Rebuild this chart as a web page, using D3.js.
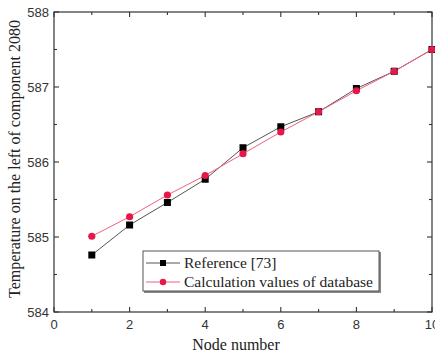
<!DOCTYPE html>
<html><head><meta charset="utf-8">
<script src="https://cdn.jsdelivr.net/npm/d3@7"></script>
<style>body{margin:0;background:#fff}</style>
</head><body>
<svg id="c" width="435" height="354"></svg>
<script>
const nodes = [1,2,3,4,5,6,7,8,9,10];
const referenceValues = [584.76,585.16,585.46,585.77,586.19,586.47,586.67,586.98,587.21,587.50];
const databaseValues = [585.01,585.27,585.56,585.82,586.11,586.40,586.67,586.95,587.21,587.50];
const xTicks = [0,2,4,6,8,10];
const yTicks = [584,585,586,587,588];
const seriesNames = ["Reference [73]","Calculation values of database"];

const svg = d3.select("#c");
const L=54,R=432,T=12,B=312;
const x = d3.scaleLinear().domain([0,10]).range([L,R]);
const y = d3.scaleLinear().domain([584,588]).range([B,T]);

svg.append("rect").attr("x",L).attr("y",T).attr("width",R-L).attr("height",B-T)
  .attr("fill","none").attr("stroke","#333").attr("stroke-width",1.2);

const xMinor = d3.range(1,10,2);
const yMinor = [584.5,585.5,586.5,587.5];
const tg = svg.append("g").attr("stroke","#333").attr("stroke-width",1.1);
xTicks.forEach(v=>{tg.append("line").attr("x1",x(v)).attr("x2",x(v)).attr("y1",B).attr("y2",B-5);
  tg.append("line").attr("x1",x(v)).attr("x2",x(v)).attr("y1",T).attr("y2",T+5);});
xMinor.forEach(v=>{tg.append("line").attr("x1",x(v)).attr("x2",x(v)).attr("y1",B).attr("y2",B-3);
  tg.append("line").attr("x1",x(v)).attr("x2",x(v)).attr("y1",T).attr("y2",T+3);});
yTicks.forEach(v=>{tg.append("line").attr("y1",y(v)).attr("y2",y(v)).attr("x1",L).attr("x2",L+5);
  tg.append("line").attr("y1",y(v)).attr("y2",y(v)).attr("x1",R).attr("x2",R-5);});
yMinor.forEach(v=>{tg.append("line").attr("y1",y(v)).attr("y2",y(v)).attr("x1",L).attr("x2",L+3);
  tg.append("line").attr("y1",y(v)).attr("y2",y(v)).attr("x1",R).attr("x2",R-3);});

const lab = svg.append("g").attr("font-family","Liberation Sans, Arial, sans-serif").attr("font-size",13).attr("fill","#333");
xTicks.forEach(v=>lab.append("text").attr("x",x(v)).attr("y",B+17).attr("text-anchor","middle").text(v));
yTicks.forEach(v=>lab.append("text").attr("x",L-5).attr("y",y(v)+4.5).attr("text-anchor","end").text(v));

svg.append("text").attr("x",236).attr("y",350).attr("text-anchor","middle")
  .attr("font-family","Liberation Serif, Times New Roman, serif").attr("font-size",16).attr("fill","#222").text("Node number");
svg.append("text").attr("transform",`translate(20,${(T+B)/2-3}) rotate(-90)`).attr("text-anchor","middle")
  .attr("font-family","Liberation Serif, Times New Roman, serif").attr("font-size",16).attr("fill","#222")
  .text("Temperature on the left of component 2080");

const line = d3.line().x((d,i)=>x(nodes[i])).y(d=>y(d));
const red="#e8174a";
svg.append("path").datum(referenceValues).attr("d",line).attr("fill","none").attr("stroke","#555").attr("stroke-width",1);
svg.append("path").datum(databaseValues).attr("d",line).attr("fill","none").attr("stroke","#f06080").attr("stroke-width",1);
svg.selectAll(".sq").data(referenceValues).enter().append("rect")
  .attr("x",(d,i)=>x(nodes[i])-3.5).attr("y",d=>y(d)-3.5).attr("width",7).attr("height",7).attr("fill","#000");
svg.selectAll(".ci").data(databaseValues).enter().append("circle")
  .attr("cx",(d,i)=>x(nodes[i])).attr("cy",d=>y(d)).attr("r",3.6).attr("fill",red);

const lg = svg.append("g");
lg.append("rect").attr("x",144).attr("y",252).attr("width",237).attr("height",41).attr("fill","#888");
lg.append("rect").attr("x",143).attr("y",251).attr("width",236).attr("height",40).attr("fill","#fff").attr("stroke","#555").attr("stroke-width",1);
const ly=[263,282];
lg.append("line").attr("x1",146).attr("x2",180).attr("y1",ly[0]).attr("y2",ly[0]).attr("stroke","#555");
lg.append("rect").attr("x",160).attr("y",ly[0]-3).attr("width",6).attr("height",6).attr("fill","#000");
lg.append("line").attr("x1",146).attr("x2",180).attr("y1",ly[1]).attr("y2",ly[1]).attr("stroke","#f06080");
lg.append("circle").attr("cx",163).attr("cy",ly[1]).attr("r",3.2).attr("fill",red);
seriesNames.forEach((s,i)=>lg.append("text").attr("x",184).attr("y",ly[i]+5)
  .attr("font-family","Liberation Serif, Times New Roman, serif").attr("font-size",15.5).attr("fill","#222").text(s));
</script>
</body></html>
